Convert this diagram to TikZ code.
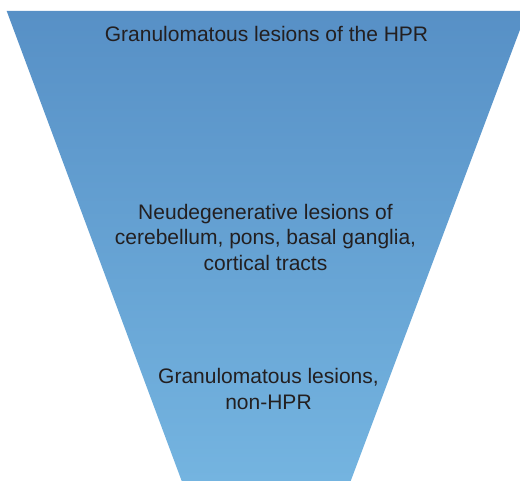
\documentclass[tikz,border=0pt]{standalone}
\usepackage{fontspec}
\setmainfont{Liberation Sans}
\definecolor{funneltop}{RGB}{87,144,198}
\definecolor{funnelbot}{RGB}{116,180,224}
\definecolor{txt}{RGB}{35,31,32}
\begin{document}
\begin{tikzpicture}[x=1pt,y=-1pt,
  lbl/.style={text=txt,font=\fontsize{21}{25.3}\selectfont,align=center,inner sep=0pt}]
\useasboundingbox (0,0) rectangle (520,481);
\begin{scope}
\clip (0,0) rectangle (520,481);
\shade[top color=funneltop,bottom color=funnelbot]
  (6.7,11) coordinate (tl) -- (527,11) coordinate (tr) -- (350.7,481) coordinate (br) -- (181.7,481) coordinate (bl) -- cycle;
\end{scope}
\node[lbl,anchor=base] (t1) at (266.5,41.7) {Granulomatous lesions of the HPR};
\node[lbl,anchor=north] (t2) at (265.5,204) {Neudegenerative lesions of\\cerebellum, pons, basal ganglia,\\cortical tracts};
\node[lbl,anchor=north] (t3) at (268.5,368.5) {Granulomatous lesions,\\non-HPR};
\end{tikzpicture}
\end{document}
